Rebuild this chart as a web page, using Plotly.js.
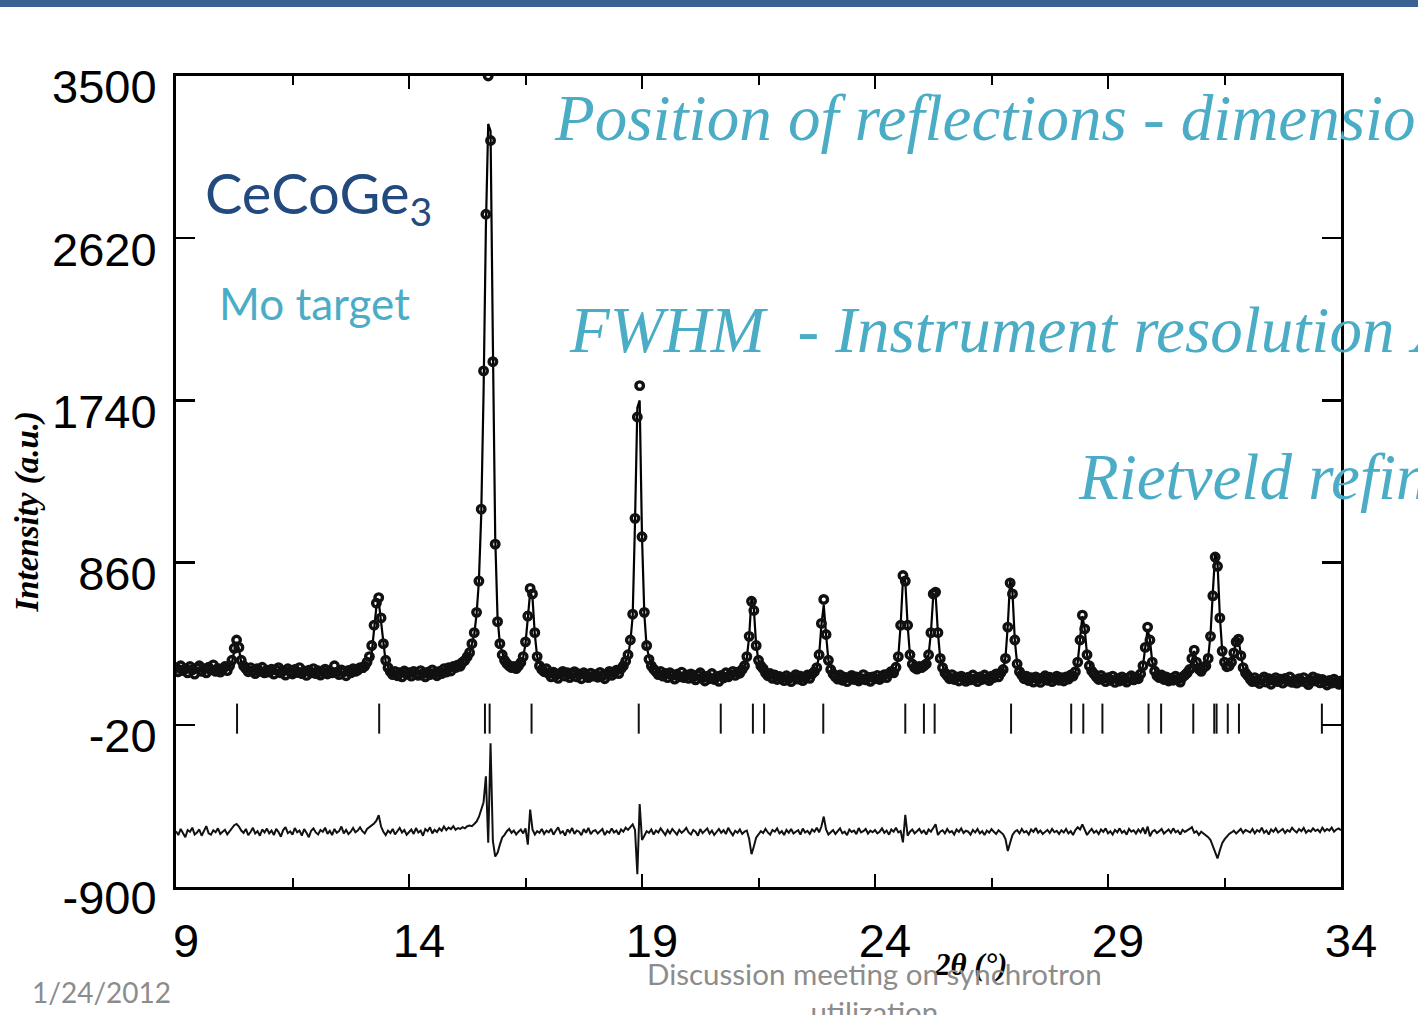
<!DOCTYPE html>
<html><head><meta charset="utf-8">
<script src="https://cdn.plot.ly/plotly-3.0.1.min.js"></script>
<style>html,body{margin:0;padding:0;background:#fff;overflow:hidden}#chart{width:1418px;height:1015px}</style>
</head><body><div id="chart"></div>
<script>
// ---------- data ----------
const SCAN_START = 9.0;     // first 2theta of the scan
const SCAN_STEP = 0.05;     // scan step (deg)

// observed intensity, one row per degree (x.00 ... x.95)
const OBS = [
 290,268,300,275,285,262,296,278,255,288,300,270,284,262,292,278,305,270,286,266,
 282,296,274,300,330,395,440,400,330,300,285,268,290,272,258,284,270,292,262,276,
 266,282,255,278,290,262,274,250,284,268,256,280,264,290,258,272,248,276,262,285,
 258,274,250,268,282,256,270,262,300,266,252,278,268,246,275,262,284,270,276,290,
 290,298,320,350,410,520,640,670,560,420,330,290,268,252,270,246,262,240,272,256,
 262,244,270,256,248,274,258,240,266,252,278,260,246,270,258,284,266,290,272,296,
 290,305,298,320,330,350,372,420,480,590,760,1150,1900,2750,3500,3150,1950,960,540,420,
 360,330,312,300,290,296,285,300,318,350,430,570,720,690,480,350,300,280,268,284,
 258,240,266,250,232,258,270,244,262,236,254,268,240,256,230,262,248,236,260,244,
 252,238,264,246,230,256,270,248,262,276,258,284,300,325,360,440,580,1100,1650,1820,
 1000,590,410,335,300,282,268,252,270,244,258,236,262,248,228,254,240,266,236,250,
 232,256,240,224,250,262,236,218,244,230,258,226,242,216,248,234,262,240,252,270,
 248,266,260,280,300,350,460,650,600,410,330,300,285,262,246,258,232,250,226,242,
 236,220,246,230,214,240,252,228,244,220,236,250,232,256,268,290,360,530,660,470,
 330,280,256,240,228,250,222,238,214,236,248,226,240,218,232,252,224,238,216,240,
 230,248,226,240,252,236,258,270,262,292,350,520,790,760,520,360,310,290,282,296,
 290,300,310,360,480,690,700,480,340,290,262,246,230,252,226,240,218,244,232,216,
 238,224,250,230,214,240,226,250,232,220,244,236,256,240,262,280,340,510,750,690,
 440,310,268,250,230,244,220,236,212,240,226,210,234,246,222,238,214,230,244,222,
 236,218,240,228,250,244,268,320,440,575,500,360,300,272,256,240,226,248,232,214,
 236,222,244,210,230,218,240,226,212,236,246,224,238,230,256,300,400,510,440,320,
 272,246,236,250,226,240,218,232,222,244,228,212,238,250,262,280,340,385,320,282,
 270,290,300,340,460,680,890,840,560,380,320,295,300,320,370,430,445,355,290,262,
 246,228,214,236,220,204,226,240,212,230,200,222,236,214,228,206,232,218,240,210,
 224,206,230,216,236,212,198,222,240,218,230,208,226,214,196,220,206,228,212,200,
 218
];

// difference curve (obs - calc, drawn shifted), same scan points
const DIFF = [
 -597,-618,-585,-608,-630,-591,-600,-578,-615,-604,-588,-622,-597,-570,-609,-616,-592,-603,-582,-612,
 -600,-590,-615,-596,-578,-565,-558,-572,-594,-606,-585,-618,-602,-579,-610,-597,-622,-588,-604,-583,
 -609,-594,-618,-585,-602,-627,-591,-575,-608,-598,-616,-580,-603,-594,-621,-586,-606,-630,-595,-582,
 -604,-615,-591,-600,-578,-612,-595,-618,-585,-606,-597,-572,-609,-590,-613,-600,-580,-603,-594,-576,
 -597,-609,-585,-575,-570,-555,-540,-510,-572,-600,-618,-594,-607,-585,-615,-597,-579,-604,-591,-616,
 -600,-588,-612,-580,-604,-594,-622,-585,-597,-576,-609,-590,-602,-582,-595,-572,-591,-578,-586,-570,
 -590,-580,-585,-575,-582,-570,-566,-570,-558,-545,-520,-480,-440,-300,-660,-120,-650,-735,-715,-670,
 -632,-617,-597,-585,-606,-594,-615,-600,-588,-609,-582,-670,-480,-588,-615,-597,-606,-585,-612,-594,
 -603,-585,-616,-595,-576,-608,-598,-621,-588,-604,-580,-612,-594,-600,-619,-586,-606,-579,-613,-597,
 -592,-610,-600,-585,-618,-597,-606,-582,-604,-594,-615,-588,-600,-578,-590,-572,-560,-590,-830,-450,
 -645,-622,-597,-606,-588,-615,-594,-604,-582,-600,-618,-591,-609,-585,-598,-616,-590,-606,-595,-579,
 -604,-615,-591,-600,-622,-586,-608,-597,-582,-610,-594,-618,-600,-585,-606,-592,-613,-579,-601,-620,
 -595,-606,-588,-612,-600,-594,-640,-722,-680,-632,-615,-597,-607,-585,-604,-616,-591,-600,-582,-609,
 -597,-618,-590,-606,-585,-610,-600,-592,-616,-583,-604,-595,-612,-588,-600,-578,-603,-572,-518,-588,
 -615,-603,-591,-612,-597,-582,-609,-600,-619,-588,-601,-594,-613,-580,-604,-597,-585,-610,-594,-603,
 -591,-609,-600,-582,-606,-594,-616,-588,-600,-578,-604,-597,-658,-508,-622,-600,-588,-609,-597,-585,
 -606,-594,-615,-588,-600,-578,-560,-618,-600,-592,-609,-585,-604,-597,-615,-588,-601,-582,-607,-595,
 -600,-616,-591,-604,-585,-609,-597,-618,-594,-606,-586,-600,-612,-592,-603,-614,-640,-705,-660,-618,
 -600,-591,-609,-585,-604,-597,-615,-588,-601,-580,-606,-594,-613,-600,-590,-607,-585,-603,-595,-612,
 -592,-604,-585,-609,-597,-618,-591,-576,-588,-560,-594,-618,-600,-585,-606,-595,-613,-588,-601,-582,
 -609,-597,-615,-590,-603,-582,-606,-595,-616,-585,-600,-592,-610,-588,-604,-578,-612,-572,-625,-600,
 -591,-607,-597,-585,-610,-600,-588,-606,-582,-603,-594,-615,-590,-601,-595,-585,-575,-606,-597,-618,
 -600,-609,-616,-630,-645,-680,-720,-745,-702,-662,-642,-624,-612,-604,-594,-610,-600,-585,-607,-591,
 -597,-604,-585,-609,-591,-600,-578,-606,-594,-615,-588,-600,-582,-604,-595,-585,-607,-591,-600,-579,
 -594,-604,-585,-597,-580,-606,-592,-600,-582,-596,-588,-603,-578,-597,-585,-594,-577,-600,-588,-582,
 -592
];

// calculated profile (2theta, intensity)
const CALC_X = [
 9.0,10.0,10.15, 10.20,10.25,10.30,10.35,10.40,10.45,10.55,
 11.5,12.5,13.05, 13.15,13.20,13.25,13.30,13.35,13.40,13.45,13.50,13.60,
 14.0,14.5,14.9,15.1,15.3,
 15.40,15.45,15.50,15.55,15.60,15.65,15.70,15.75,15.80,15.85,15.90,15.95,16.05,16.25,
 16.40,16.45,16.50,16.55,16.60,16.65,16.70,16.75,16.85,
 17.5,18.4,18.6,
 18.70,18.75,18.80,18.85,18.90,18.95,19.00,19.05,19.10,19.20,
 19.5,20.5,21.1,
 21.20,21.25,21.30,21.35,21.40,21.45,21.50,21.60,
 22.0,22.65,
 22.75,22.80,22.85,22.90,22.95,23.00,23.10,
 24.0,24.40,
 24.45,24.50,24.55,24.60,24.65,24.70,24.75,24.85,
 25.05,25.15,25.20,25.25,25.30,25.35,25.40,25.50,
 26.0,26.65,
 26.75,26.80,26.85,26.90,26.95,27.00,27.05,27.15,
 28.0,28.25,
 28.30,28.35,28.40,28.45,28.50,28.55,28.65,
 29.0,29.65,
 29.70,29.75,29.80,29.85,29.90,29.95,30.05,
 30.65,
 30.75,30.80,30.85,30.90,30.95,31.05,
 31.10,31.15,31.20,31.25,31.30,31.35,31.40,31.45,31.50,31.60,
 31.65,31.70,31.75,31.80,31.85,31.90,32.0,
 32.2,33.0,34.0
];
const CALC_Y = [
 281,278,285, 315,380,430,390,320,292,280,
 268,264,268, 300,370,500,620,650,540,400,320,275,
 260,265,282,305,365,
 470,580,760,1120,1780,2680,3240,3200,2050,1000,560,420,330,292,
 315,345,420,560,700,670,470,350,285,
 255,262,296,
 355,430,570,1080,1700,1740,1000,580,400,300,
 250,240,262,
 296,345,460,670,610,410,330,285,
 238,255,
 288,355,520,630,470,330,258,
 238,265,
 292,350,520,770,760,520,360,290,
 300,360,480,680,690,480,340,262,
 232,245,
 282,345,520,770,700,440,310,250,
 230,245,
 266,320,440,570,500,360,272,
 230,236,
 255,300,400,500,440,320,250,
 245,
 278,335,380,320,280,288,
 305,345,470,700,910,860,570,385,320,302,
 320,370,430,440,355,290,250,
 224,216,212
];

// Bragg reflection positions (2theta)
const BRAGG = [10.31,13.36,15.63,15.73,16.63,18.93,20.69,21.38,21.62,22.89,24.65,25.05,25.28,
               26.92,28.21,28.47,28.88,29.87,30.14,30.83,31.28,31.33,31.57,31.81,33.59];

const X_TICKS = [9,14,19,24,29,34];
const X_MINOR = [11.5,16.5,21.5,26.5,31.5];
const Y_TICKS = [-900,-20,860,1740,2620,3500];

// ---------- drawing ----------
const SCAN_X = OBS.map((_, i) => +(SCAN_START + i * SCAN_STEP).toFixed(2));
const BRAGG_LO = -68, BRAGG_HI = 95;   // vertical extent of the reflection bars
const braggX = [], braggY = [];
BRAGG.forEach(p => { braggX.push(p, p, null); braggY.push(BRAGG_LO, BRAGG_HI, null); });

const traces = [
  {x: CALC_X, y: CALC_Y, type: 'scatter', mode: 'lines', name: 'calc',
   line: {color: '#000', width: 2.2}},
  {x: SCAN_X, y: OBS, type: 'scatter', mode: 'markers', name: 'obs',
   marker: {symbol: 'circle-open', size: 7.5, color: '#111', line: {width: 3.4, color: '#111'}}},
  {x: SCAN_X, y: DIFF, type: 'scatter', mode: 'lines', name: 'diff',
   line: {color: '#111', width: 2}},
  {x: braggX, y: braggY, type: 'scatter', mode: 'lines', name: 'Bragg',
   line: {color: '#111', width: 2}}
];

const L = 176, R = 1341, T = 76, B = 887.5;
const px = v => (v - L) / (R - L);
const py = v => (B - v) / (B - T);
const CYAN = '#4BACC6';
const scriptFont = {family: 'Liberation Serif, serif', size: 65, color: CYAN, style: 'italic'};

const layout = {
  width: 1418, height: 1015, autosize: false, showlegend: false,
  margin: {l: L, r: 1418 - R, t: T, b: 1015 - B, pad: 0},
  paper_bgcolor: '#fff', plot_bgcolor: '#fff',
  xaxis: {range: [9, 34], tickmode: 'array', tickvals: X_TICKS, ticktext: X_TICKS.map(String),
    ticks: 'inside', ticklen: 13, tickwidth: 2, tickcolor: '#000',
    showline: true, linewidth: 3, linecolor: '#000', mirror: 'allticks',
    showgrid: false, zeroline: false,
    tickfont: {family: 'Liberation Sans, Arial, sans-serif', size: 47, color: '#000'},
    ticklabelshift: 10, ticklabelstandoff: 11,
    minor: {tickmode: 'array', tickvals: X_MINOR, ticks: 'inside', ticklen: 9, tickwidth: 2, tickcolor: '#000', showgrid: false}},
  yaxis: {range: [-900, 3500], tickmode: 'array', tickvals: Y_TICKS, ticktext: Y_TICKS.map(String),
    ticks: 'inside', ticklen: 19, tickwidth: 2.5, tickcolor: '#000',
    showline: true, linewidth: 3, linecolor: '#000', mirror: 'allticks',
    showgrid: false, zeroline: false,
    tickfont: {family: 'Liberation Sans, Arial, sans-serif', size: 47, color: '#000'},
    ticklabelshift: 11, ticklabelstandoff: 7},
  shapes: [
    {type: 'rect', xref: 'paper', yref: 'paper', x0: px(0), x1: px(1418), y0: py(7), y1: py(0),
     fillcolor: '#3A6394', line: {width: 0}, layer: 'above'}
  ],
  annotations: [
    {xref: 'paper', yref: 'paper', x: px(203), y: py(197), xanchor: 'left', yanchor: 'middle', showarrow: false,
     text: 'CeCoGe<sub>3</sub>', font: {family: 'Lato, sans-serif', size: 56, color: '#234A7F'}},
    {xref: 'paper', yref: 'paper', x: px(217), y: py(303), xanchor: 'left', yanchor: 'middle', showarrow: false,
     text: 'Mo target', font: {family: 'Lato, sans-serif', size: 44, color: CYAN}},
    {xref: 'paper', yref: 'paper', x: px(552), y: py(118), xanchor: 'left', yanchor: 'middle', showarrow: false,
     text: 'Position of reflections - dimensions', font: scriptFont},
    {xref: 'paper', yref: 'paper', x: px(567), y: py(330), xanchor: 'left', yanchor: 'middle', showarrow: false,
     text: 'FWHM  - Instrument resolution X-ray', font: scriptFont},
    {xref: 'paper', yref: 'paper', x: px(1076), y: py(477), xanchor: 'left', yanchor: 'middle', showarrow: false,
     text: 'Rietveld refinement', font: scriptFont},
    {xref: 'paper', yref: 'paper', x: px(28), y: py(512), xanchor: 'center', yanchor: 'middle', showarrow: false,
     textangle: -90, text: '<b><i>Intensity (a.u.)</i></b>', font: {family: 'Liberation Serif, serif', size: 33, color: '#000'}},
    {xref: 'paper', yref: 'paper', x: px(970), y: py(965), xanchor: 'center', yanchor: 'middle', showarrow: false,
     text: '<b><i>2θ (°)</i></b>', font: {family: 'Liberation Serif, serif', size: 31, color: '#000'}},
    {xref: 'paper', yref: 'paper', x: px(30), y: py(993), xanchor: 'left', yanchor: 'middle', showarrow: false,
     text: '1/24/2012', font: {family: 'Lato, sans-serif', size: 28, color: '#8C8C8C'}},
    {xref: 'paper', yref: 'paper', x: px(874), y: py(993), xanchor: 'center', yanchor: 'middle', showarrow: false,
     text: 'Discussion meeting on synchrotron<br>utilization', font: {family: 'Lato, sans-serif', size: 29.5, color: '#8C8C8C'}}
  ]
};

Plotly.newPlot('chart', traces, layout, {displayModeBar: false, staticPlot: true});
</script>
</body></html>
